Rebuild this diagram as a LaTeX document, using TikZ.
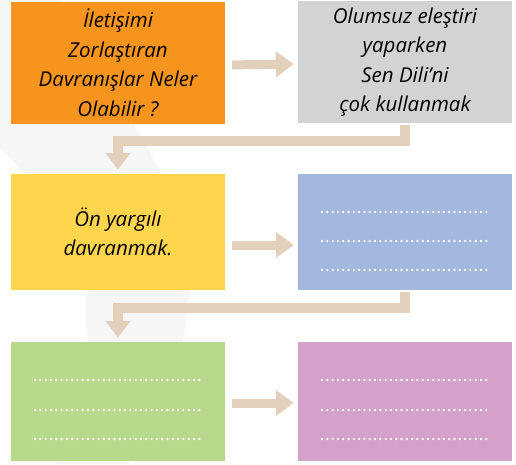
\documentclass[tikz,border=0pt]{standalone}
\usepackage{fontspec}
\setmainfont{Open Sans}
\usetikzlibrary{arrows.meta}
\definecolor{turuncu}{HTML}{F7941E}
\definecolor{gri}{HTML}{D1D3D4}
\definecolor{sari}{HTML}{FFD54E}
\definecolor{mavi}{HTML}{A4B8DF}
\definecolor{yesil}{HTML}{B8D98B}
\definecolor{pembe}{HTML}{D3A1CA}
\definecolor{okrenk}{HTML}{E2D0BA}
\definecolor{filigran}{HTML}{F6F6F6}

\begin{document}
\begin{tikzpicture}[x=1pt,y=-1pt,
    kutu/.style={minimum width=214pt,inner sep=0pt,align=center,
      font=\fontsize{20.5}{29.5}\selectfont\itshape},
    yanok/.style={draw=okrenk,line width=9pt,shorten <=7pt,shorten >=4pt,
      -{Triangle[width=25pt,length=18pt]}},
    asagiok/.style={draw=okrenk,line width=10pt,line join=miter,shorten <=2pt,shorten >=4pt,
      -{Triangle[width=24pt,length=17pt]}},
    nokta/.style={white,line width=2.6pt,line cap=round,dash pattern=on 0pt off 5.3pt}]
      \useasboundingbox (0,0) rectangle (516,464);

      \fill[filigran] (0,0) -- (0,148) -- (25,174) -- (87,290)
        .. controls (85,310) and (86,330) .. (88,342) -- (55,464) -- (128,464)
        -- (183,342) .. controls (186,320) and (189,300) .. (190,290)
        -- (162,174) -- (133,123) -- (60,0) -- cycle;

      \path
      (118,63) node[kutu,fill=turuncu,minimum height=122pt](soru)
        {İletişimi\\Zorlaştıran\\Davranışlar Neler\\Olabilir ?}
      (405,62) node[kutu,fill=gri,minimum height=122pt](sendili)
        {Olumsuz eleştiri\\yaparken\\Sen Dili'ni\\çok kullanmak}
      (118,232) node[kutu,fill=sari,minimum height=116pt](onyargi)
        {Ön yargılı\\davranmak.}
      (405,232) node[kutu,fill=mavi,minimum height=116pt](bos1) {}
      (118,401.5) node[kutu,fill=yesil,minimum height=119pt](bos2) {}
      (405,401.5) node[kutu,fill=pembe,minimum height=119pt](bos3) {}
      ;

      \draw[yanok] ([yshift=-2pt]soru.east) to ([yshift=-2pt]sendili.west);
      \draw[yanok] ([yshift=-13pt]onyargi.east) to ([yshift=-13pt]bos1.west);
      \draw[yanok] ([yshift=-1.5pt]bos2.east) to ([yshift=-1.5pt]bos3.west);

      \draw[asagiok] (sendili.south) -- ++(0,18) -| (onyargi.north);
      \draw[asagiok] (bos1.south) -- ++(0,18) -| (bos2.north);

      \foreach \y in {212,241,270} \draw[nokta] (322,\y) -- (491,\y);
      \foreach \y in {380,410,439} \draw[nokta] (35,\y) -- (203,\y);
      \foreach \y in {380,410,439} \draw[nokta] (322,\y) -- (491,\y);
    \end{tikzpicture}
\end{document}
